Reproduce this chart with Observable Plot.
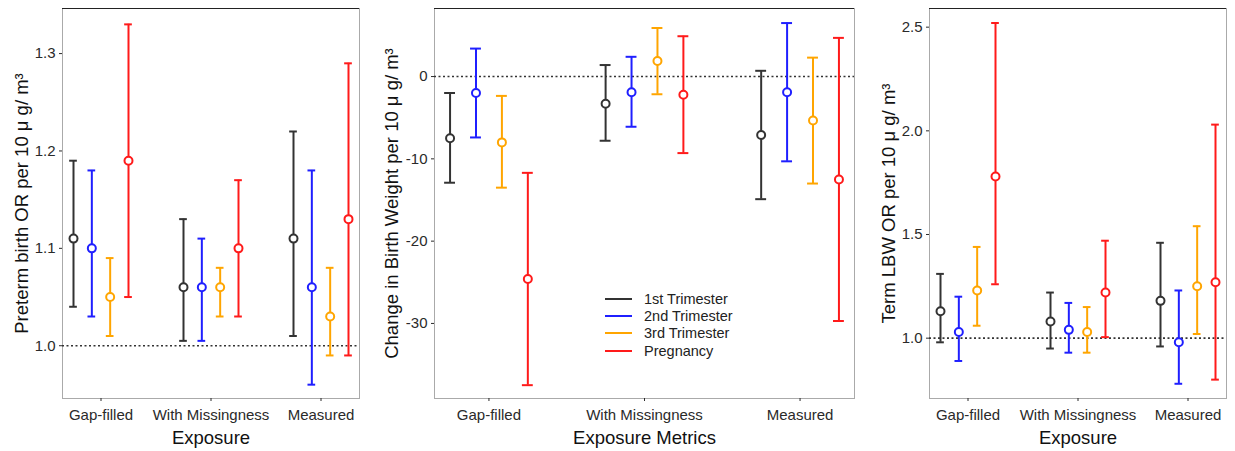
<!DOCTYPE html>
<html><head><meta charset="utf-8">
<script src="https://cdn.jsdelivr.net/npm/d3@7"></script>
<script src="https://cdn.jsdelivr.net/npm/@observablehq/plot@0.6"></script>
<style>
body{margin:0;background:#fff;}
#wrap{position:relative;width:1235px;height:451px;font-family:"Liberation Sans",Arial,sans-serif;background:#fff;overflow:hidden;}
.panel{position:absolute;top:0;}
.panel svg [aria-label="y-axis label"]{font-size:18.5px;fill:#111;}
.panel svg [aria-label="x-axis label"]{font-size:18.5px;fill:#111;}
#legend{position:absolute;left:605px;top:290px;font-size:14.5px;color:#222;}
#legend .row{display:flex;align-items:center;height:17.4px;}
#legend .line{width:27px;height:2px;margin-right:12px;}
</style>
</head><body>
<div id="wrap"></div>
<script>
const categories = ["Gap-filled", "With Missingness", "Measured"];
const series = ["1st Trimester", "2nd Trimester", "3rd Trimester", "Pregnancy"];
const seriesColors = ["#333333", "#1f1fff", "#ffa500", "#ff1a1a"];

// values ordered category by category, series within category
const pretermEst = [1.11, 1.10, 1.05, 1.19,  1.06, 1.06, 1.06, 1.10,  1.11, 1.06, 1.03, 1.13];
const pretermLo  = [1.04, 1.03, 1.01, 1.05,  1.005, 1.005, 1.03, 1.03,  1.01, 0.96, 0.99, 0.99];
const pretermHi  = [1.19, 1.18, 1.09, 1.33,  1.13, 1.11, 1.08, 1.17,  1.22, 1.18, 1.08, 1.29];
const pretermTicks = [1.0, 1.1, 1.2, 1.3];

const bwEst = [-7.5, -2.0, -8.0, -24.6,  -3.3, -1.9, 1.9, -2.2,  -7.1, -1.9, -5.35, -12.5];
const bwLo  = [-12.9, -7.4, -13.5, -37.5,  -7.8, -6.1, -2.15, -9.3,  -14.9, -10.3, -13.0, -29.7];
const bwHi  = [-2.0, 3.4, -2.35, -11.7,  1.4, 2.4, 5.9, 4.9,  0.7, 6.5, 2.3, 4.7];
const bwTicks = [-30, -20, -10, 0];

const lbwEst = [1.13, 1.03, 1.23, 1.78,  1.08, 1.04, 1.03, 1.22,  1.18, 0.98, 1.25, 1.27];
const lbwLo  = [0.98, 0.89, 1.06, 1.26,  0.95, 0.93, 0.93, 1.005,  0.96, 0.78, 1.02, 0.80];
const lbwHi  = [1.31, 1.20, 1.44, 2.52,  1.22, 1.17, 1.15, 1.47,  1.46, 1.23, 1.54, 2.03];
const lbwTicks = [1.0, 1.5, 2.0, 2.5];

const dodge = 2 / 3, cap = 0.035;

function panel(o) {
  const rows = [];
  categories.forEach((c, i) => series.forEach((s, j) => {
    const k = i * series.length + j;
    rows.push({cat: c, series: s, x: i + (j - (series.length - 1) / 2) * dodge / series.length,
               est: o.est[k], lo: o.lo[k], hi: o.hi[k]});
  }));
  const svg = Plot.plot({
    width: o.width, height: 451,
    marginTop: 8, marginBottom: 53, marginLeft: o.marginLeft, marginRight: o.marginRight,
    style: {fontFamily: '"Liberation Sans", Arial, sans-serif', fontSize: "15px", color: "#2a2a2a", background: "white"},
    x: {domain: [-0.35, categories.length - 0.65]},
    y: {domain: o.domain},
    color: {domain: series, range: seriesColors},
    marks: [
      Plot.frame({stroke: "#aaa"}),
      Plot.ruleY([o.domain[1]], {stroke: "#222", strokeWidth: 1.2}),
      Plot.ruleY([o.ref], {stroke: "#333", strokeDasharray: "2,2.5", strokeWidth: 1.6}),
      Plot.ruleX(rows, {x: "x", y1: "lo", y2: "hi", stroke: "series", strokeWidth: 2}),
      Plot.ruleY(rows, {y: "lo", x1: d => d.x - cap, x2: d => d.x + cap, stroke: "series", strokeWidth: 2}),
      Plot.ruleY(rows, {y: "hi", x1: d => d.x - cap, x2: d => d.x + cap, stroke: "series", strokeWidth: 2}),
      Plot.dot(rows, {x: "x", y: "est", stroke: "series", fill: "white", r: 4, strokeWidth: 2}),
      Plot.axisX({ticks: d3.range(categories.length), tickFormat: i => categories[i], tickSize: 3, tickPadding: 8,
        label: o.xlabel, labelAnchor: "center", labelOffset: 45, labelArrow: "none"}),
      Plot.axisY({ticks: o.ticks, tickFormat: o.fmt, tickSize: 3, tickPadding: 4,
        label: o.ylabel, labelAnchor: "center", labelOffset: o.labelOffset, labelArrow: "none"})
    ]
  });
  const div = document.createElement("div");
  div.className = "panel";
  div.style.left = o.left + "px";
  div.appendChild(svg);
  document.getElementById("wrap").appendChild(div);
}

panel({est: pretermEst, lo: pretermLo, hi: pretermHi, ticks: pretermTicks, fmt: d => d.toFixed(1),
  domain: [0.9458, 1.3463], ref: 1, ylabel: "Preterm birth OR per 10 μ g/ m³", xlabel: "Exposure",
  left: 0, width: 380, marginLeft: 62, marginRight: 21, labelOffset: 48});
panel({est: bwEst, lo: bwLo, hi: bwHi, ticks: bwTicks, fmt: d => String(d),
  domain: [-39.12, 8.27], ref: 0, ylabel: "Change in Birth Weight per 10 μ g/ m³", xlabel: "Exposure Metrics",
  left: 380, width: 475, marginLeft: 54, marginRight: 1, labelOffset: 50});
panel({est: lbwEst, lo: lbwLo, hi: lbwHi, ticks: lbwTicks, fmt: d => d.toFixed(1),
  domain: [0.709, 2.59], ref: 1, ylabel: "Term LBW OR per 10 μ g/ m³", xlabel: "Exposure",
  left: 855, width: 380, marginLeft: 74, marginRight: 9, labelOffset: 48});

const legend = d3.select("#wrap").append("div").attr("id", "legend");
series.forEach((s, j) => {
  const row = legend.append("div").attr("class", "row");
  row.append("div").attr("class", "line").style("background", seriesColors[j]);
  row.append("span").text(s);
});
</script>
</body></html>
